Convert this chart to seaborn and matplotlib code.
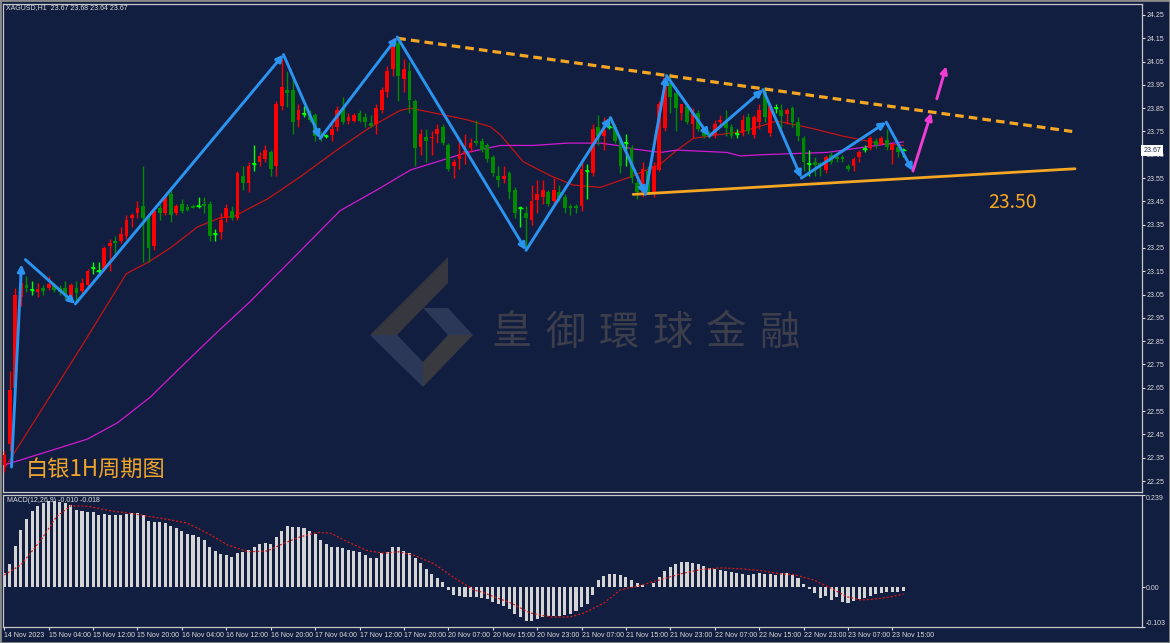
import numpy as np
import matplotlib.pyplot as plt
from matplotlib.patches import Polygon, Rectangle
from matplotlib import transforms
import seaborn as sns

# ---------------- data (XAGUSD H1) ----------------
opens = [22.32, 22.41, 22.65, 23.04, 23.09, 23.07, 23.06, 23.08, 23.08, 23.09,
         23.08, 23.08, 23.03, 23.08, 23.065, 23.09, 23.165, 23.15, 23.16, 23.26,
         23.28, 23.28, 23.30, 23.38, 23.40, 23.43, 23.38, 23.26, 23.42, 23.40,
         23.48, 23.40, 23.44, 23.425, 23.43, 23.43, 23.44, 23.44, 23.31, 23.32,
         23.38, 23.41, 23.38, 23.56, 23.53, 23.61, 23.62, 23.63, 23.66, 23.60,
         23.86, 23.93, 23.93, 23.80, 23.825, 23.83, 23.82, 23.735, 23.73, 23.735,
         23.77, 23.85, 23.795, 23.795, 23.83, 23.81, 23.785, 23.78, 23.84, 23.92,
         24.02, 24.13, 23.975, 24.01, 23.88, 23.685, 23.725, 23.72, 23.74, 23.77,
         23.69, 23.60, 23.63, 23.655, 23.68, 23.71, 23.71, 23.69, 23.64, 23.56,
         23.545, 23.57, 23.50, 23.42, 23.40, 23.37, 23.455, 23.47, 23.49, 23.45,
         23.49, 23.47, 23.43, 23.43, 23.43, 23.58, 23.57, 23.77, 23.73, 23.77,
         23.77, 23.72, 23.70, 23.68, 23.53, 23.49, 23.58, 23.49, 23.585, 23.765,
         23.96, 23.915, 23.83, 23.86, 23.78, 23.83, 23.75, 23.74, 23.735, 23.79,
         23.79, 23.77, 23.74, 23.745, 23.81, 23.735, 23.79, 23.92, 23.745, 23.85,
         23.84, 23.825, 23.85, 23.79, 23.72, 23.61, 23.62, 23.615, 23.585, 23.65,
         23.64, 23.64, 23.60, 23.60, 23.64, 23.675, 23.68, 23.71, 23.70, 23.715,
         23.67, 23.685, 23.67]
highs = [22.38, 22.72, 23.08, 23.12, 23.13, 23.11, 23.10, 23.09, 23.13, 23.10,
         23.09, 23.11, 23.10, 23.11, 23.12, 23.16, 23.19, 23.19, 23.26, 23.29,
         23.30, 23.34, 23.39, 23.40, 23.45, 23.60, 23.40, 23.42, 23.44, 23.48,
         23.50, 23.44, 23.46, 23.44, 23.44, 23.47, 23.47, 23.45, 23.33, 23.40,
         23.44, 23.43, 23.58, 23.60, 23.62, 23.69, 23.66, 23.69, 23.67, 23.88,
         24.06, 24.01, 23.99, 23.87, 23.86, 23.84, 23.83, 23.75, 23.74, 23.78,
         23.86, 23.90, 23.83, 23.83, 23.84, 23.83, 23.82, 23.87, 23.94, 24.03,
         24.15, 24.16, 24.06, 24.05, 23.89, 23.76, 23.76, 23.75, 23.78, 23.78,
         23.70, 23.63, 23.72, 23.74, 23.72, 23.80, 23.72, 23.70, 23.65, 23.60,
         23.60, 23.58, 23.51, 23.43, 23.43, 23.52, 23.54, 23.54, 23.50, 23.55,
         23.52, 23.48, 23.44, 23.44, 23.62, 23.61, 23.78, 23.82, 23.81, 23.81,
         23.78, 23.73, 23.74, 23.69, 23.54, 23.62, 23.60, 23.62, 23.88, 23.99,
         24.00, 23.94, 23.87, 23.87, 23.85, 23.84, 23.76, 23.75, 23.80, 23.82,
         23.84, 23.78, 23.76, 23.82, 23.83, 23.82, 23.87, 23.94, 23.87, 23.87,
         23.87, 23.85, 23.86, 23.81, 23.73, 23.67, 23.64, 23.62, 23.65, 23.66,
         23.65, 23.65, 23.61, 23.64, 23.67, 23.69, 23.73, 23.72, 23.73, 23.76,
         23.70, 23.70, 23.68]
lows = [22.29, 22.38, 22.62, 23.00, 23.06, 23.05, 23.04, 23.05, 23.07, 23.06,
        23.05, 23.03, 23.02, 23.02, 23.05, 23.08, 23.14, 23.13, 23.15, 23.15,
        23.23, 23.27, 23.29, 23.34, 23.38, 23.19, 23.19, 23.24, 23.37, 23.39,
        23.36, 23.39, 23.40, 23.41, 23.42, 23.42, 23.40, 23.28, 23.28, 23.29,
        23.36, 23.37, 23.37, 23.50, 23.49, 23.58, 23.60, 23.62, 23.56, 23.56,
        23.84, 23.855, 23.74, 23.77, 23.81, 23.79, 23.71, 23.71, 23.72, 23.71,
        23.75, 23.78, 23.78, 23.79, 23.79, 23.77, 23.77, 23.74, 23.83, 23.90,
        23.99, 23.88, 23.92, 23.83, 23.60, 23.65, 23.62, 23.65, 23.70, 23.69,
        23.58, 23.55, 23.59, 23.61, 23.66, 23.69, 23.66, 23.62, 23.56, 23.51,
        23.53, 23.46, 23.38, 23.34, 23.24, 23.35, 23.40, 23.44, 23.43, 23.44,
        23.45, 23.40, 23.39, 23.40, 23.41, 23.46, 23.56, 23.69, 23.67, 23.76,
        23.70, 23.57, 23.60, 23.53, 23.46, 23.47, 23.48, 23.47, 23.58, 23.75,
        23.83, 23.75, 23.80, 23.78, 23.72, 23.75, 23.72, 23.72, 23.72, 23.77,
        23.73, 23.72, 23.72, 23.73, 23.74, 23.72, 23.76, 23.79, 23.73, 23.83,
        23.76, 23.78, 23.77, 23.71, 23.58, 23.56, 23.56, 23.56, 23.57, 23.61,
        23.62, 23.62, 23.58, 23.58, 23.62, 23.66, 23.67, 23.68, 23.69, 23.67,
        23.61, 23.64, 23.64]
closes = [22.36, 22.64, 23.05, 23.10, 23.08, 23.07, 23.075, 23.065, 23.095, 23.07,
          23.06, 23.05, 23.09, 23.055, 23.10, 23.15, 23.165, 23.15, 23.25, 23.27,
          23.27, 23.31, 23.37, 23.39, 23.42, 23.38, 23.25, 23.41, 23.40, 23.47,
          23.39, 23.43, 23.41, 23.415, 23.42, 23.43, 23.43, 23.30, 23.31, 23.37,
          23.42, 23.38, 23.57, 23.53, 23.60, 23.61, 23.645, 23.67, 23.59, 23.87,
          23.94, 23.915, 23.79, 23.84, 23.825, 23.80, 23.73, 23.72, 23.73, 23.76,
          23.84, 23.79, 23.81, 23.82, 23.795, 23.79, 23.775, 23.85, 23.93, 24.01,
          24.12, 23.99, 24.02, 23.885, 23.68, 23.74, 23.71, 23.725, 23.76, 23.70,
          23.59, 23.62, 23.655, 23.665, 23.70, 23.70, 23.67, 23.63, 23.57, 23.54,
          23.56, 23.49, 23.40, 23.42, 23.38, 23.45, 23.48, 23.50, 23.44, 23.50,
          23.465, 23.42, 23.42, 23.42, 23.59, 23.58, 23.76, 23.73, 23.755, 23.77,
          23.71, 23.60, 23.70, 23.55, 23.49, 23.59, 23.49, 23.60, 23.87, 23.98,
          23.90, 23.85, 23.87, 23.79, 23.84, 23.76, 23.73, 23.73, 23.78, 23.80,
          23.765, 23.73, 23.74, 23.80, 23.75, 23.81, 23.84, 23.81, 23.86, 23.85,
          23.815, 23.84, 23.79, 23.73, 23.62, 23.61, 23.605, 23.60, 23.64, 23.62,
          23.63, 23.63, 23.59, 23.63, 23.66, 23.675, 23.72, 23.69, 23.72, 23.685,
          23.69, 23.66, 23.67]

# moving averages (bar index, value)
ma_red_idx = [0.2, 13.2, 22.0, 26.0, 29.9, 34.8, 38.9, 41.3, 47.4, 53.3, 59.3, 65.4,
              69.0, 71.3, 73.2, 77.3, 83.4, 87.6, 89.4, 93.5, 98.4, 102.5, 107.4,
              112.8, 118.2, 121.2, 124.1, 128.4, 133.1, 139.2, 145.2, 151.1, 157.3, 162.0]
ma_red_val = [22.31, 22.80, 23.14, 23.19, 23.25, 23.34, 23.38, 23.385, 23.46, 23.555,
              23.66, 23.76, 23.81, 23.84, 23.85, 23.83, 23.80, 23.77, 23.735, 23.62,
              23.56, 23.52, 23.51, 23.555, 23.61, 23.67, 23.72, 23.735, 23.75, 23.795,
              23.765, 23.73, 23.70, 23.69]
ma_mag_idx = [0.2, 8.3, 15.0, 20.4, 26.3, 32.3, 38.4, 44.3, 55.1, 60.5, 67.2, 73.2,
              77.3, 83.4, 89.4, 95.3, 101.4, 107.4, 110.4, 113.3, 118.2, 121.2, 130.2,
              132.6, 136.2, 142.1, 148.2, 154.2, 160.1, 162.0]
ma_mag_val = [22.32, 22.38, 22.43, 22.50, 22.61, 22.75, 22.89, 23.02, 23.28, 23.41,
              23.50, 23.585, 23.615, 23.66, 23.69, 23.69, 23.70, 23.70, 23.69, 23.675,
              23.66, 23.67, 23.66, 23.645, 23.65, 23.655, 23.66, 23.68, 23.70, 23.705]

# zigzag swing points and forecast
zz_idx = [1.3, 3.1, 3.8, 12.8, 50.3, 56.9, 70.8, 94.0, 109.2, 115.5, 119.3, 127.0,
          136.7, 143.6, 158.9, 163.7]
zz_val = [22.31, 23.18, 23.20, 23.01, 24.08, 23.72, 24.155, 23.24, 23.81, 23.48,
          23.99, 23.73, 23.93, 23.55, 23.79, 23.58]
proj_idx = [163.7, 167.0, 168.0, 169.7]
proj_val = [23.58, 23.83, 23.89, 24.03]

# trend lines
res_idx = [70.8, 192.4]
res_val = [24.15, 23.75]
sup_idx = [113.3, 192.9]
sup_val = [23.48, 23.59]

# MACD(12,26,9)
macd_hist = [0.038, 0.060, 0.107, 0.149, 0.177, 0.197, 0.211, 0.218, 0.223, 0.223,
             0.221, 0.217, 0.214, 0.201, 0.197, 0.195, 0.194, 0.187, 0.189, 0.188,
             0.187, 0.188, 0.190, 0.192, 0.192, 0.187, 0.172, 0.170, 0.168, 0.166,
             0.159, 0.154, 0.147, 0.139, 0.135, 0.129, 0.123, 0.105, 0.094, 0.086,
             0.084, 0.079, 0.088, 0.092, 0.097, 0.105, 0.113, 0.115, 0.113, 0.129,
             0.147, 0.159, 0.157, 0.155, 0.153, 0.147, 0.138, 0.123, 0.113, 0.105,
             0.105, 0.101, 0.096, 0.094, 0.091, 0.084, 0.075, 0.075, 0.088, 0.091,
             0.105, 0.105, 0.095, 0.088, 0.076, 0.063, 0.047, 0.034, 0.024, 0.014,
             -0.008, -0.020, -0.023, -0.026, -0.026, -0.025, -0.029, -0.031, -0.038, -0.044,
             -0.049, -0.056, -0.069, -0.076, -0.087, -0.087, -0.083, -0.076, -0.075, -0.075,
             -0.075, -0.072, -0.069, -0.061, -0.052, -0.044, -0.020, 0.019, 0.029, 0.034,
             0.034, 0.032, 0.026, 0.019, 0.011, 0.006, 0.001, 0.011, 0.026, 0.042,
             0.052, 0.060, 0.065, 0.065, 0.063, 0.060, 0.055, 0.050, 0.047, 0.045,
             0.042, 0.039, 0.037, 0.034, 0.032, 0.034, 0.037, 0.034, 0.034, 0.032,
             0.036, 0.038, 0.032, 0.023, 0.008, -0.005, -0.016, -0.029, -0.023, -0.033,
             -0.026, -0.038, -0.040, -0.035, -0.031, -0.029, -0.023, -0.018, -0.014, -0.012,
             -0.012, -0.012, -0.010]
sig_idx = [0, 3, 6.6, 9.4, 12, 15, 19.2, 23.4, 25.8, 29.4, 33, 36.6, 40.3, 43.9, 47.4,
           50.4, 53.4, 56.5, 58.8, 62.4, 65.4, 68.4, 71.1, 74, 77.5, 81, 84.6, 85.9,
           91.3, 94.8, 98.5, 102, 104.4, 108, 111, 114.7, 118.3, 121.9, 125.5, 129,
           132.7, 136.3, 140.2, 142.2, 145.8, 148.9, 151.9, 154.3, 156.6, 159.7, 162]
sig_val = [0.032, 0.058, 0.122, 0.183, 0.211, 0.210, 0.198, 0.190, 0.184, 0.176, 0.166,
           0.140, 0.109, 0.092, 0.094, 0.114, 0.131, 0.142, 0.140, 0.114, 0.095, 0.088,
           0.092, 0.082, 0.060, 0.025, -0.007, -0.012, -0.041, -0.067, -0.077, -0.077,
           -0.067, -0.041, -0.007, 0.005, 0.020, 0.035, 0.046, 0.050, 0.048, 0.043,
           0.034, 0.033, 0.019, -0.002, -0.025, -0.033, -0.031, -0.025, -0.018]

time_labels = ["14 Nov 2023", "15 Nov 04:00", "15 Nov 12:00", "15 Nov 20:00",
               "16 Nov 04:00", "16 Nov 12:00", "16 Nov 20:00", "17 Nov 04:00",
               "17 Nov 12:00", "17 Nov 20:00", "20 Nov 07:00", "20 Nov 15:00",
               "20 Nov 23:00", "21 Nov 07:00", "21 Nov 15:00", "21 Nov 23:00",
               "22 Nov 07:00", "22 Nov 15:00", "22 Nov 23:00", "23 Nov 07:00",
               "23 Nov 15:00"]
time_ticks = [8 * k for k in range(len(time_labels))]
last_price = 23.67

# ---------------- style ----------------
BG = '#111e3f'
FRAME = '#c8c8c8'
TXT = '#dcdcdc'
BLUE = '#2b94f0'
ORANGE = '#f5a623'
UP = '#ff0000'
DOWN = '#008a00'
DOJI = '#00ff00'
FS = 5.0

sns.set_style('dark', {'axes.facecolor': BG, 'figure.facecolor': BG,
                       'axes.edgecolor': FRAME})
plt.rcParams['font.family'] = ['Liberation Sans', 'Noto Sans CJK SC', 'DejaVu Sans']

W, H = 1170, 643
fig = plt.figure(figsize=(11.7, 6.43), dpi=100, facecolor=BG)


def rect(x0, y0, x1, y1):
    return [x0 / W, 1 - y1 / H, (x1 - x0) / W, (y1 - y0) / H]


# overlay in pixel coordinates for watermark / free text
wm = fig.add_axes([0, 0, 1, 1])
wm.set_xlim(0, W)
wm.set_ylim(H, 0)
wm.axis('off')
wm.set_zorder(0)

ax = fig.add_axes(rect(3, 4, 1142, 492))
ax2 = fig.add_axes(rect(3, 495, 1142, 627), sharex=ax)
for a in (ax, ax2):
    a.set_facecolor('none')
    a.set_zorder(1)
    for s in a.spines.values():
        s.set_color(FRAME)
        s.set_linewidth(0.9)

# watermark logo + name
dark_a = [(370, 335), (448, 257), (448, 283), (397, 335)]
blue_a = [(370, 335), (397, 335), (423, 362), (423, 387)]
blue_b = [(423, 308), (448, 308), (473, 335), (448, 335)]
dark_b = [(448, 335), (473, 335), (423, 387), (423, 362)]
for pts, col in ((dark_a, '#36373f'), (blue_a, '#2c3858'), (blue_b, '#2c3858'), (dark_b, '#393a40')):
    wm.add_patch(Polygon(pts, closed=True, fc=col, ec='none'))
for k, ch in enumerate("皇御環球金融"):
    wm.text(512 + 53.6 * k, 333, ch, fontsize=29, color='#3c3e4b', ha='center', va='center',
            family=['Noto Sans CJK TC', 'DejaVu Sans'])

# ---------------- candles ----------------
idx = np.arange(len(opens))
cols = [UP if c > o else (DOWN if c < o else DOJI) for o, c in zip(opens, closes)]
ax.vlines(idx, lows, highs, colors=cols, lw=1, zorder=3)
bottoms = [min(o, c) for o, c in zip(opens, closes)]
heights = [max(abs(c - o), 0.004) for o, c in zip(opens, closes)]
ax.bar(idx, heights, bottom=bottoms, width=0.68, color=cols, linewidth=0, zorder=4)
doji = [i for i in idx if opens[i] == closes[i]]
ax.hlines([opens[i] for i in doji], [i - 0.4 for i in doji], [i + 0.4 for i in doji],
          colors=DOJI, lw=1, zorder=4)

# moving averages
sns.lineplot(x=ma_red_idx, y=ma_red_val, ax=ax, color='#c41414', lw=0.9, sort=False,
             estimator=None, zorder=2)
sns.lineplot(x=ma_mag_idx, y=ma_mag_val, ax=ax, color='#d21ad2', lw=0.9, sort=False,
             estimator=None, zorder=2)

# trend lines
ax.plot(res_idx, res_val, color=ORANGE, lw=2.3, dashes=(2.7, 1.6), zorder=5)
ax.plot(sup_idx, sup_val, color=ORANGE, lw=2.0, zorder=5)


def arrow(a, p0, p1, color):
    a.annotate('', xy=p1, xytext=p0,
               arrowprops=dict(arrowstyle='-|>,head_length=0.5,head_width=0.25', color=color,
                               lw=2.1, shrinkA=0, shrinkB=0, mutation_scale=8), zorder=6)


pairs = [(0, 1)] + [(k, k + 1) for k in range(2, len(zz_idx) - 1)]
for a0, a1 in pairs:
    arrow(ax, (zz_idx[a0], zz_val[a0]), (zz_idx[a1], zz_val[a1]), BLUE)
for a0, a1 in ((0, 1), (2, 3)):
    arrow(ax, (proj_idx[a0], proj_val[a0]), (proj_idx[a1], proj_val[a1]), '#f03cd2')

ax.set_xlim(-0.23, 204.97)
ax.set_ylim(22.2028, 24.297)
price_ticks = np.round(np.arange(22.25, 24.26, 0.1), 2)
ax.yaxis.tick_right()
ax.set_yticks(price_ticks)
ax.set_yticklabels([f"{v:.2f}" for v in price_ticks])
ax.tick_params(axis='y', colors=TXT, labelsize=FS, length=2.2, width=0.8, pad=0.8,
               direction='out', right=True, left=False)
ax.tick_params(axis='x', bottom=False, labelbottom=False)
ax.set_xlabel('')
ax.set_ylabel('')
ax.grid(False)

# current price box
trans = transforms.blended_transform_factory(ax.transAxes, ax.transData)
ax.text(1.0012, last_price, f"{last_price:.2f}", transform=trans, fontsize=FS, color='#1a2340',
        ha='left', va='center', zorder=10, clip_on=False,
        bbox=dict(boxstyle='square,pad=0.3', fc='white', ec='none'))

# ---------------- MACD ----------------
ax2.bar(idx, macd_hist, width=0.55, color='#d4d4d4', linewidth=0, zorder=2)
sns.lineplot(x=sig_idx, y=sig_val, ax=ax2, color='#e01818', lw=0.9, sort=False,
             estimator=None, zorder=3)
ax2.lines[-1].set_dashes([1.6, 1.6])
ax2.set_ylim(-0.103, 0.239)
ax2.yaxis.tick_right()
ax2.set_yticks([-0.103, 0.0, 0.239])
ax2.set_yticklabels(['-0.103', '0.00', '0.239'])
yl = ax2.get_yticklabels()
yl[0].set_va('bottom')
yl[-1].set_va('top')
ax2.tick_params(axis='y', colors=TXT, labelsize=FS, length=2.2, width=0.8, pad=0.8,
                right=True, left=False)
ax2.set_xticks(time_ticks)
ax2.set_xticklabels(time_labels, ha='left')
ax2.tick_params(axis='x', colors=TXT, labelsize=FS, length=2.5, width=0.8, pad=1,
                bottom=True)
ax2.set_xlabel('')
ax2.set_ylabel('')
ax2.grid(False)

# ---------------- texts ----------------
wm.text(6, 8, "XAGUSD,H1  23.67 23.68 23.64 23.67", fontsize=FS, color=TXT,
        ha='left', va='center')
wm.text(7, 500, "MACD(12,26,9) -0.010 -0.018", fontsize=FS, color=TXT,
        ha='left', va='center')
wm.text(26, 469, "白银1H周期图", fontsize=16, color='#f0a52a', ha='left', va='center',
        family=['Noto Sans CJK SC', 'DejaVu Sans'])
wm.text(1013, 203, "23.50", fontsize=14, color=ORANGE, ha='center', va='center',
        family=['Noto Sans CJK SC', 'DejaVu Sans'])

fig.patches.append(Rectangle((0, 0), 1, 1, transform=fig.transFigure, fill=False,
                             ec='#8a8a8a', lw=2))

fig.savefig('out.png', dpi=100, facecolor=BG)
